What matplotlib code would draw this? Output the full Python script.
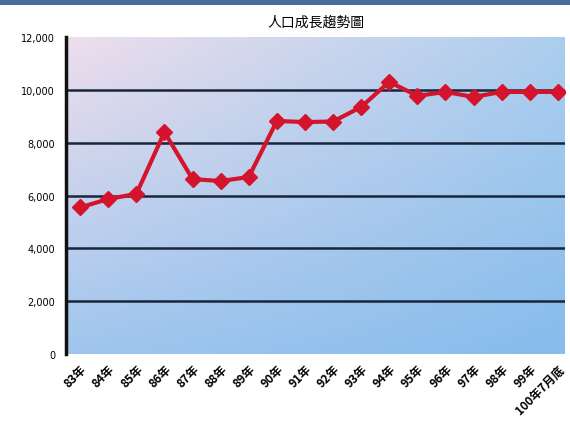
import matplotlib.pyplot as plt
import numpy as np

plt.rcParams['font.family'] = ['Noto Sans CJK TC', 'DejaVu Sans']

# 年度與人口數
years = ['83年', '84年', '85年', '86年', '87年', '88年', '89年', '90年',
         '91年', '92年', '93年', '94年', '95年', '96年', '97年', '98年',
         '99年', '100年7月底']
population = [5550, 5870, 6060, 8400, 6620, 6550, 6700, 8820,
              8780, 8800, 9350, 10300, 9770, 9920, 9730, 9920,
              9920, 9920]
yticks = [0, 2000, 4000, 6000, 8000, 10000, 12000]

fig = plt.figure(figsize=(5.7, 4.31), dpi=100)
ax = fig.add_axes([0.116, 0.176, 0.875, 0.736])

# 背景漸層 (左上偏粉, 右下偏藍)
tl = np.array([238, 222, 236]) / 255
tr = np.array([172, 206, 238]) / 255
bl = np.array([160, 198, 238]) / 255
br = np.array([135, 188, 236]) / 255
nx, ny = 200, 100
u = np.linspace(0, 1, nx)[None, :, None]
v = np.linspace(0, 1, ny)[:, None, None]
img = (tl * (1 - u) * (1 - v) + tr * u * (1 - v)
       + bl * (1 - u) * v + br * u * v)
ax.imshow(img, extent=[0, 1, 0, 1], transform=ax.transAxes,
          aspect='auto', zorder=0)

ax.set_xlim(-0.5, len(years) - 0.75)
ax.set_ylim(0, 12000)

for yv in yticks[1:-1]:
    ax.axhline(yv, color='#17263c', lw=1.8, zorder=1)

ax.plot(range(len(years)), population, color='#d4142c', lw=3,
        marker='D', markersize=8, markerfacecolor='#d4142c',
        markeredgecolor='#d4142c', zorder=3)

ax.set_yticks(yticks)
ax.set_yticklabels([f'{v:,}' for v in yticks], fontsize=7,
                   family='DejaVu Sans')
ax.tick_params(axis='y', length=0, pad=8)
ax.set_xticks(range(len(years)))
ax.set_xticklabels(years, rotation=45, ha='right', rotation_mode='anchor',
                   fontsize=8.5, fontweight='bold')
ax.tick_params(axis='x', length=0, pad=6)

for s in ['top', 'right', 'bottom']:
    ax.spines[s].set_visible(False)
ax.spines['left'].set_linewidth(2.5)
ax.spines['left'].set_color('#111111')

ax.set_title('人口成長趨勢圖', fontsize=10, pad=8)

# 頂端藍色細帶
fig.add_artist(plt.Rectangle((0, 0.985), 1, 0.015, transform=fig.transFigure,
                             color='#4a6c9a', lw=0))

fig.savefig('out.png', dpi=100)
